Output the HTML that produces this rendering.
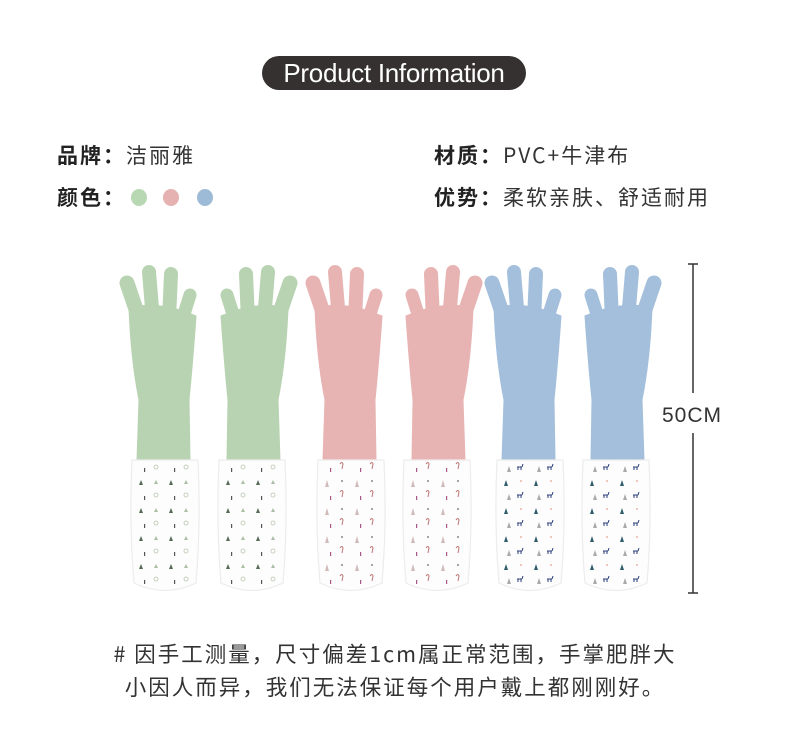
<!DOCTYPE html>
<html><head><meta charset="utf-8"><style>
html,body{margin:0;padding:0;background:#fff}
body{width:790px;height:740px;position:relative;overflow:hidden;font-family:"Noto Sans CJK SC","Liberation Sans",sans-serif;color:#333}
.pill{position:absolute;left:262px;top:56px;width:264px;height:34px;border-radius:17px;background:#353131;color:#fff;font-family:"Liberation Sans",sans-serif;font-size:26px;line-height:34px;text-align:center;letter-spacing:-0.3px}
.t{position:absolute;font-size:21px;line-height:26px;white-space:nowrap;letter-spacing:2px;color:#333}
.t b{font-weight:700;color:#222}
.dot{position:absolute;width:16px;height:17px;border-radius:50%}
.note{position:absolute;left:0;width:790px;text-align:center;font-size:21.5px;line-height:26px;color:#333;letter-spacing:2px}
</style></head><body>
<div class="pill">Product Information</div>
<div class="t" style="left:57px;top:142px"><b>品牌：</b>洁丽雅</div>
<div class="t" style="left:57px;top:184px"><b>颜色：</b></div>
<span class="dot" style="left:131px;top:189px;background:#b8d7b3"></span>
<span class="dot" style="left:163px;top:189px;background:#e6b2b1"></span>
<span class="dot" style="left:197px;top:189px;background:#9dbad6"></span>
<div class="t" style="left:434px;top:142px"><b>材质：</b>PVC+牛津布</div>
<div class="t" style="left:434px;top:184px"><b>优势：</b>柔软亲肤、舒适耐用</div>

<svg width="790" height="740" style="position:absolute;left:0;top:0" xmlns="http://www.w3.org/2000/svg">
<defs>
<pattern id="pg" width="30" height="28" patternUnits="userSpaceOnUse">
<rect width="30" height="28" fill="#fdfdfd"/>
<path d="M6 4 L8 9 L4 9Z" fill="#556a55"/><circle cx="21" cy="19" r="2" fill="none" stroke="#b8c6ad" stroke-width="0.8"/><path d="M21 4 L23 8 L19 8Z" fill="#a9bea4"/><rect x="9" y="20" width="1.2" height="4" fill="#555"/>
</pattern>
<pattern id="pp" width="30" height="28" patternUnits="userSpaceOnUse">
<rect width="30" height="28" fill="#fdfdfd"/>
<path d="M6 4 L8 11 L4 11Z" fill="#d0bcb9"/><path d="M19 16 q2 -3 3 0 l-1 5" fill="none" stroke="#c07576" stroke-width="1"/><circle cx="21" cy="5" r="1" fill="#8a8a8a"/><rect x="9" y="20" width="1.2" height="4" fill="#a58"/>
</pattern>
<pattern id="pb" width="30" height="28" patternUnits="userSpaceOnUse">
<rect width="30" height="28" fill="#fdfdfd"/>
<path d="M6 4 L8 10 L4 10Z" fill="#2f5d6c"/><path d="M17 19 h5 M18 19 v3 M21 19 v3 M22 19 l1 -3" stroke="#2a3f7a" stroke-width="1"/><circle cx="21" cy="5" r="1" fill="#e6b8a6"/><path d="M9 18 L11 24 L7 24Z" fill="#a9a9a9"/>
</pattern>
<g id="glove">
<g stroke-linecap="round">
<line x1="-22" y1="330" x2="-38" y2="283" stroke-width="15"/>
<line x1="-12" y1="320" x2="-16" y2="272" stroke-width="14"/>
<line x1="4" y1="320" x2="6" y2="274" stroke-width="14"/>
<line x1="14" y1="330" x2="25" y2="295" stroke-width="13"/>
<line x1="-22" y1="345" x2="-30" y2="308" stroke-width="13"/>
</g>
<path d="M-36 308 Q-6 300 31 316 Q28 360 24 400 L25 460 L-28 460 L-26 400 Q-34 360 -36 308Z"/>
</g>
<g id="cuff">
<path d="M-33 460 L33 460 Q36 525 31 583 Q0 598 -31 583 Q-36 525 -33 460Z"/>
<path d="M-33 460 L33 460 Q36 525 31 583 Q0 598 -31 583 Q-36 525 -33 460Z" fill="none" stroke="#ececec" stroke-width="1.2"/>
</g>
</defs>
<g fill="#b8d3b1" stroke="#b8d3b1"><use href="#glove" transform="translate(165,0)"/><use href="#glove" transform="translate(252,0) scale(-1,1)"/></g>
<g fill="url(#pg)"><use href="#cuff" transform="translate(165,0)"/><use href="#cuff" transform="translate(252,0)"/></g>
<g fill="#e7b4b3" stroke="#e7b4b3"><use href="#glove" transform="translate(351,0)"/><use href="#glove" transform="translate(437,0) scale(-1,1)"/></g>
<g fill="url(#pp)"><use href="#cuff" transform="translate(351,0)"/><use href="#cuff" transform="translate(437,0)"/></g>
<g fill="#a3bfdc" stroke="#a3bfdc"><use href="#glove" transform="translate(530,0)"/><use href="#glove" transform="translate(616,0) scale(-1,1)"/></g>
<g fill="url(#pb)"><use href="#cuff" transform="translate(530,0)"/><use href="#cuff" transform="translate(616,0)"/></g>
<g stroke="#333" stroke-width="1.5">
<line x1="693" y1="264" x2="693" y2="393"/><line x1="693" y1="433" x2="693" y2="593"/>
<line x1="688" y1="264" x2="698" y2="264"/><line x1="688" y1="593" x2="698" y2="593"/>
</g>
<text x="692" y="422" font-size="21" text-anchor="middle" fill="#333" font-family="Liberation Sans, sans-serif" letter-spacing="1">50CM</text>
</svg>

<div class="note" style="top:641px"># 因手工测量，尺寸偏差1cm属正常范围，手掌肥胖大</div>
<div class="note" style="top:674px">小因人而异，我们无法保证每个用户戴上都刚刚好。</div>
</body></html>
